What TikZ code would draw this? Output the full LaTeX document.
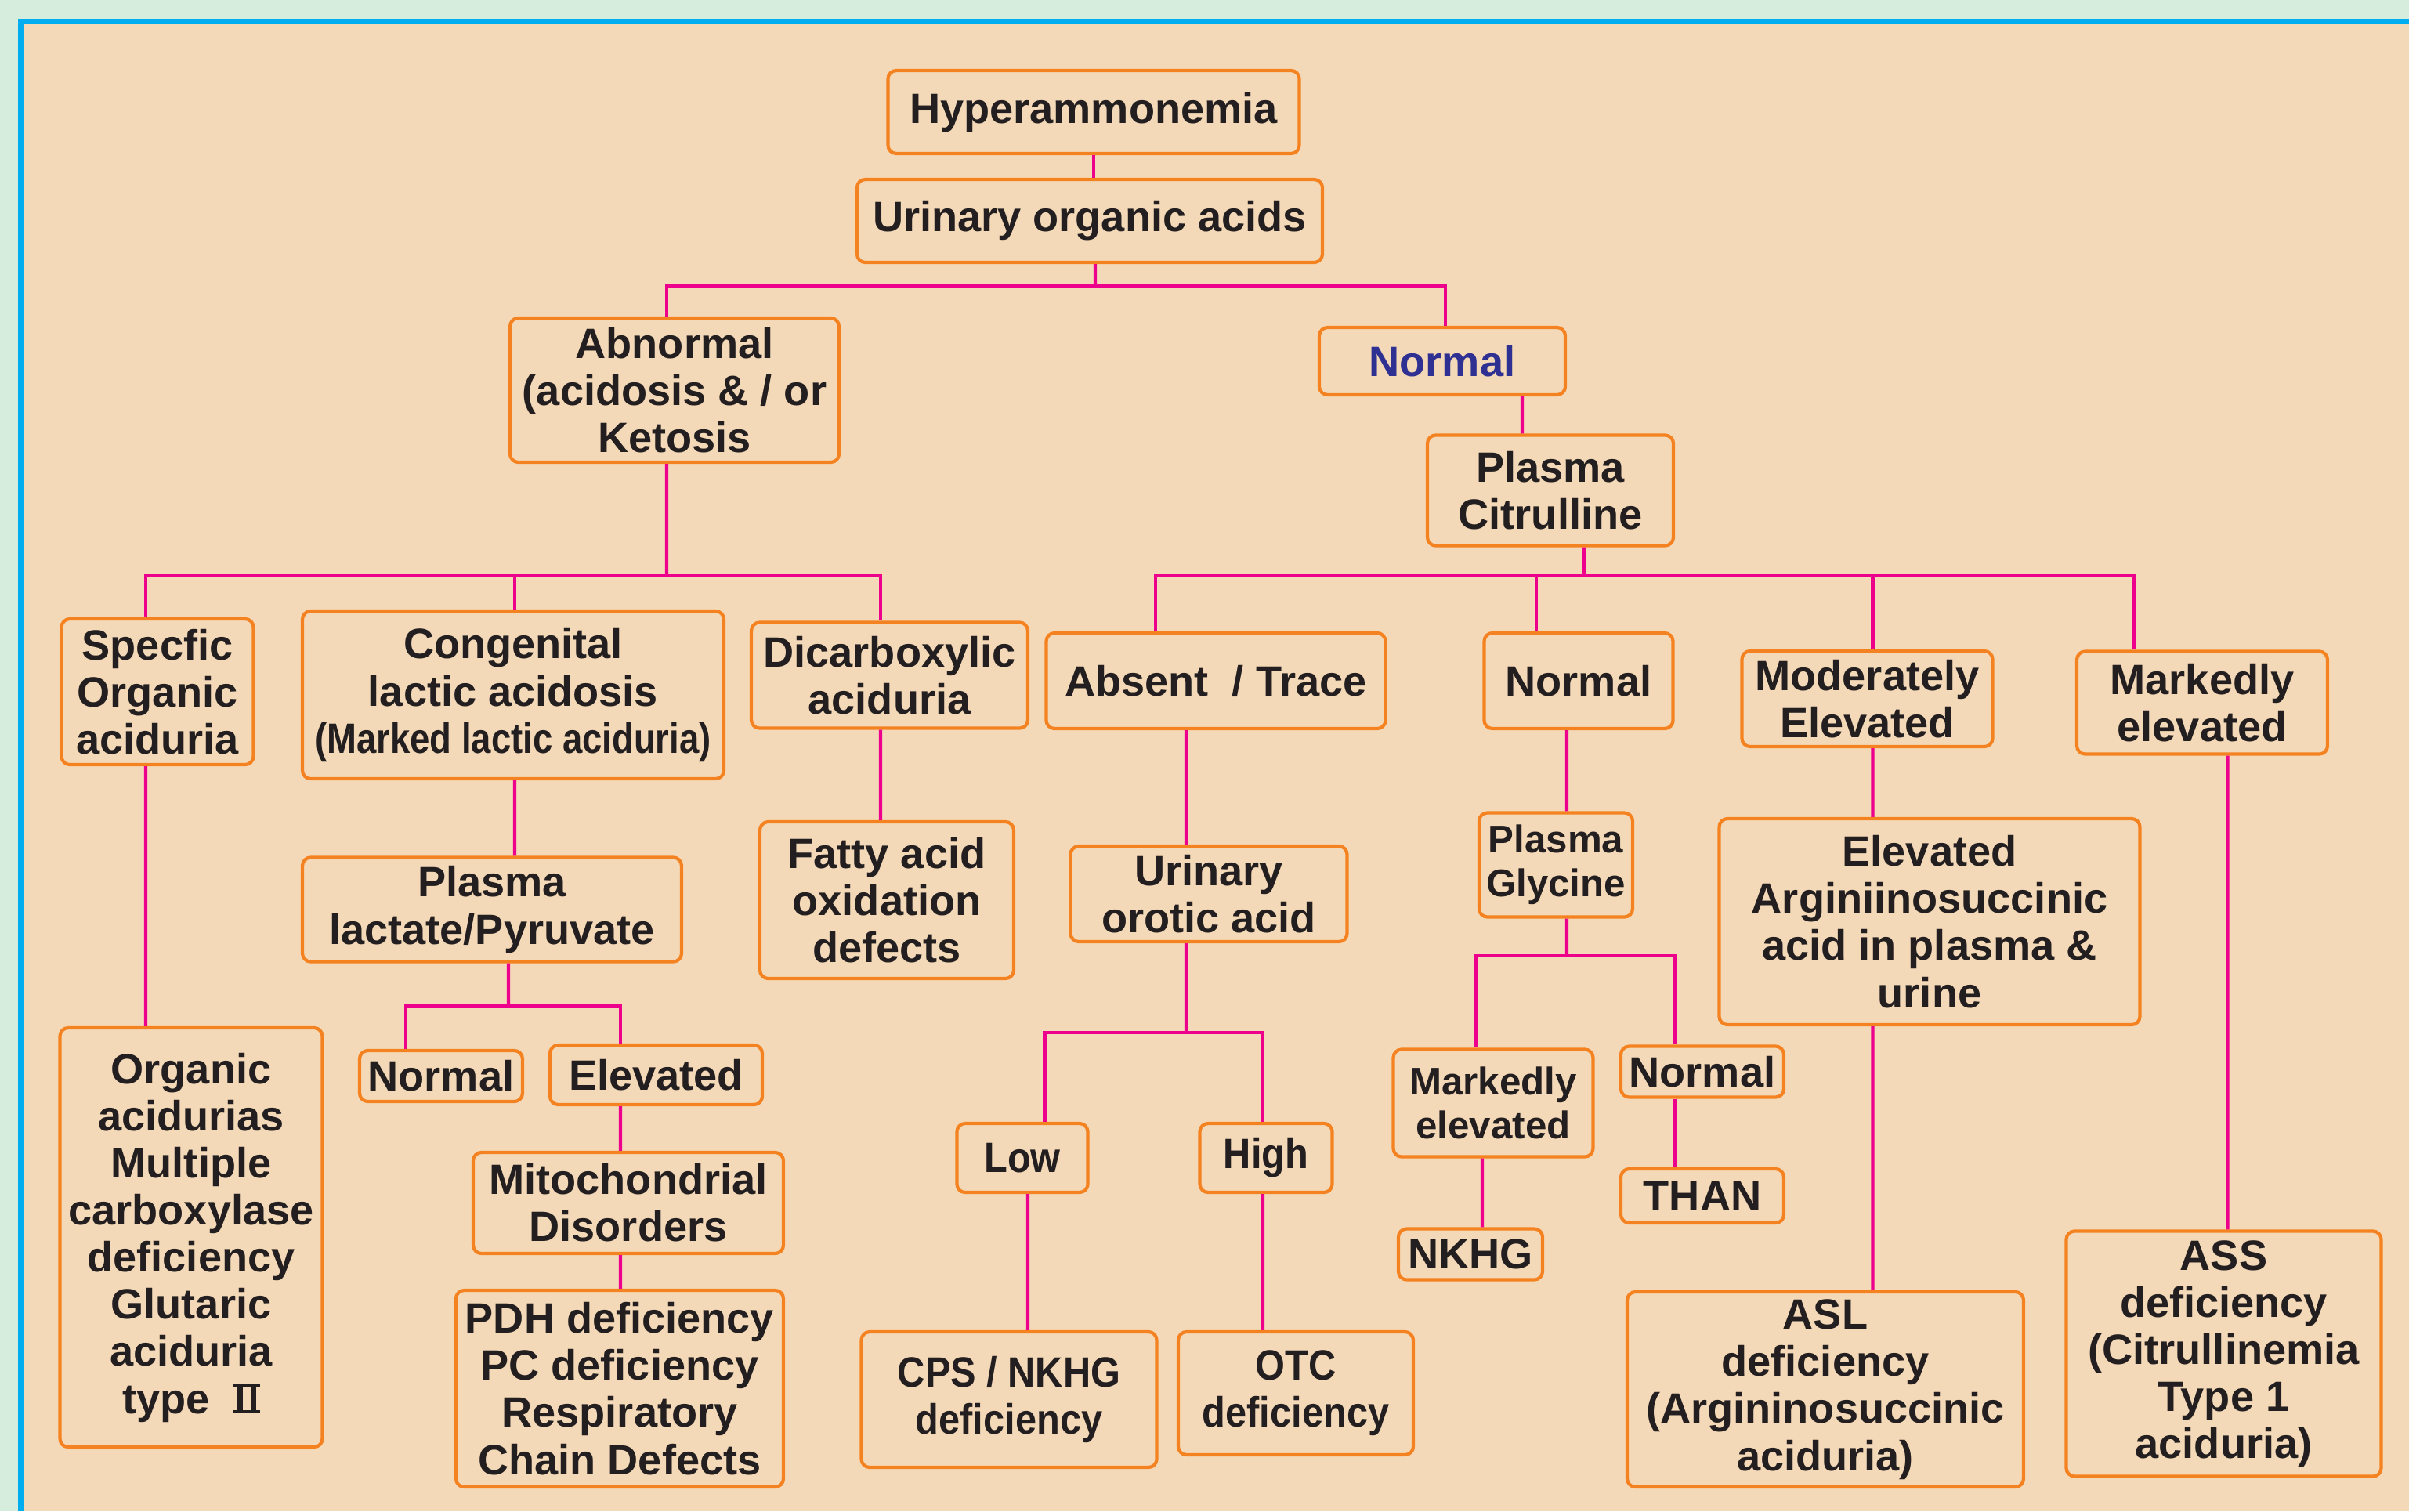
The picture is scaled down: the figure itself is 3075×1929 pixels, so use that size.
\documentclass[tikz,border=0pt]{standalone}
\usepackage{fontspec}
\setmainfont{Liberation Sans}
\newfontfamily\nar{Liberation Sans}[FakeStretch=0.9]
\newfontfamily\narr{Liberation Sans}[FakeStretch=0.84]
\usetikzlibrary{calc}
\newcommand\mytwo{\leavevmode\hbox{\vbox{\hrule width 0.62em height 0.075em
  \hbox to 0.62em{\hskip0.09em\vrule width 0.13em height 0.55em\hfil\vrule width 0.13em height 0.55em\hskip0.09em}%
  \hrule width 0.62em height 0.075em}}}
\definecolor{bgbeige}{HTML}{F4D9B8}
\definecolor{outgreen}{HTML}{D6ECDD}
\definecolor{frameblue}{HTML}{00AEEF}
\definecolor{boxorange}{HTML}{F58220}
\definecolor{linkpink}{HTML}{EC008C}
\definecolor{txt}{HTML}{231F20}
\definecolor{navy}{HTML}{2E3192}
\tikzset{
  box/.style={draw=boxorange, fill=bgbeige, line width=1.2pt, rounded corners=3pt,
    align=center, inner sep=0pt, text=txt,
    font=\bfseries\fontsize{15.4}{17.1}\selectfont},
  smallbox/.style={font=\bfseries\fontsize{14}{15.9}\selectfont},
  narrow/.style={font=\bfseries\nar\fontsize{15.4}{17.1}\selectfont},
  wh/.style 2 args={minimum width=#1*0.01cm, minimum height=#2*0.01cm},
  link/.style={draw=linkpink, line width=1.2pt}
}
\begin{document}
\begin{tikzpicture}[x=0.01cm,y=-0.01cm]
\useasboundingbox (0,0) rectangle (3075,1929);
\fill[outgreen] (0,0) rectangle (3075,1929);
\fill[bgbeige] (30,31) rectangle (3075,1929);
\fill[frameblue] (23,24) rectangle (3075,31);
\fill[frameblue] (23,24) rectangle (30,1929);

% nodes
\node[box, wh={525}{106}] (hyper) at (1396,143) {Hyperammonemia};
\node[box, wh={594}{106}] (uoa) at (1391,282) {Urinary organic acids};
\node[box, wh={420}{184}] (abn) at (861,498) {Abnormal\\(acidosis \& / or\\Ketosis};
\node[box, wh={314}{86}, text=navy] (norm1) at (1841,461) {Normal};
\node[box, wh={314}{141}] (pcit) at (1979,626) {Plasma\\Citrulline};
\node[box, wh={245}{186}] (spec) at (201,883) {Specfic\\Organic\\aciduria};
\node[box, wh={538}{214}] (cong) at (655,887) {Congenital\\lactic acidosis\\{\narr (Marked lactic aciduria)}};
\node[box, wh={353}{135}] (dicarb) at (1135.5,862) {Dicarboxylic\\aciduria};
\node[box, wh={433}{122}] (absent) at (1552,869) {Absent\ \ / Trace};
\node[box, wh={241}{122}] (norm2) at (2015,869) {Normal};
\node[box, wh={320}{122}] (mod) at (2383.5,892) {Moderately\\Elevated};
\node[box, wh={320}{131}] (mark1) at (2811,897) {Markedly\\elevated};
\node[box, wh={484}{133}] (plact) at (628,1161) {Plasma\\lactate/Pyruvate};
\node[box, wh={324}{200}] (fatty) at (1132,1149) {Fatty acid\\oxidation\\defects};
\node[box, wh={353}{122}] (uorot) at (1543,1141) {Urinary\\orotic acid};
\node[box, smallbox, wh={196}{133}] (pgly) at (1986,1104) {Plasma\\Glycine};
\node[box, wh={537}{263}] (easa) at (2463,1176.5) {Elevated\\Arginiinosuccinic\\acid in plasma \&\\urine};
\node[box, wh={335}{535}] (orgac) at (244,1579.5) {Organic\\acidurias\\Multiple\\carboxylase\\deficiency\\Glutaric\\aciduria\\type\ \ \mytwo};
\node[box, wh={208}{65}] (norm3) at (563,1373.5) {Normal};
\node[box, wh={271}{76}] (elev) at (837.5,1372) {Elevated};
\node[box, wh={396}{129}] (mito) at (802,1535.5) {Mitochondrial\\Disorders};
\node[box, wh={418}{251}] (pdh) at (791,1772.5) {PDH deficiency\\PC deficiency\\Respiratory\\Chain Defects};
\node[box, narrow, wh={167}{88}] (low) at (1305,1478) {Low};
\node[box, narrow, wh={169}{88}] (high) at (1616,1478) {High};
\node[box, smallbox, wh={255}{137}] (mark2) at (1906,1408) {Markedly\\elevated};
\node[box, wh={208}{65}] (norm4) at (2173,1368) {Normal};
\node[box, wh={208}{69}] (than) at (2173,1526.5) {THAN};
\node[box, wh={184}{65}] (nkhg) at (1877,1601) {NKHG};
\node[box, narrow, wh={377}{173}] (cps) at (1288,1786.5) {CPS / NKHG\\deficiency};
\node[box, narrow, wh={300}{157}] (otc) at (1654,1778.5) {OTC\\deficiency};
\node[box, wh={506}{249}] (asl) at (2330,1773.5) {ASL\\deficiency\\(Argininosuccinic\\aciduria)};
\node[box, wh={402}{313}] (ass) at (2838.5,1728) {ASS\\deficiency\\(Citrullinemia\\Type 1\\aciduria)};

% connectors
\draw[link] (hyper.south) -- (hyper.south |- uoa.north);

\coordinate (j1) at (1398,365);
\draw[link] ([xshift=0.07cm]uoa.south) -- (j1);
\draw[link] ([xshift=-0.10cm]abn.north) |- (j1) -| ([xshift=0.04cm]norm1.north);

\draw[link] ([xshift=1.02cm]norm1.south) -- ([xshift=-0.36cm]pcit.north);

\coordinate (j2) at (851,735);
\draw[link] ([xshift=-0.10cm]abn.south) -- (j2);
\draw[link] ([xshift=-0.15cm]spec.north) |- (j2) -| ([xshift=-0.115cm]dicarb.north);
\draw[link] ([xshift=0.02cm]cong.north) |- (j2);

\coordinate (j3) at (2022,735);
\draw[link] ([xshift=0.43cm]pcit.south) -- (j3);
\draw[link] ([xshift=-0.77cm]absent.north) |- (j3) -| ([xshift=-0.87cm]mark1.north);
\draw[link] ([xshift=-0.54cm]norm2.north) |- (j3);
\draw[link] ([xshift=0.07cm]mod.north) |- (j3);

\draw[link] ([xshift=-0.15cm]spec.south) -- ([xshift=-0.58cm]orgac.north);
\draw[link] ([xshift=0.02cm]cong.south) -- ([xshift=0.29cm]plact.north);

\coordinate (j4) at (649,1284.5);
\draw[link] ([xshift=0.21cm]plact.south) -- (j4);
\draw[link] ([xshift=-0.45cm]norm3.north) |- (j4) -| ([xshift=-0.455cm]elev.north);
\draw[link] ([xshift=-0.455cm]elev.south) -- ([xshift=-0.10cm]mito.north);
\draw[link] ([xshift=-0.10cm]mito.south) -- ([xshift=0.01cm]pdh.north);

\draw[link] ([xshift=-0.115cm]dicarb.south) -- ([xshift=-0.08cm]fatty.north);

\draw[link] ([xshift=-0.38cm]absent.south) -- ([xshift=-0.29cm]uorot.north);
\coordinate (j5) at (1514,1318);
\draw[link] ([xshift=-0.29cm]uorot.south) -- (j5);
\draw[link] ([xshift=0.285cm]low.north) |- (j5) -| ([xshift=-0.04cm]high.north);
\draw[link] ([xshift=0.07cm]low.south) -- ([xshift=0.24cm]cps.north);
\draw[link] ([xshift=-0.04cm]high.south) -- ([xshift=-0.42cm]otc.north);

\draw[link] ([xshift=-0.15cm]norm2.south) -- ([xshift=0.14cm]pgly.north);
\coordinate (j6) at (2000,1220);
\draw[link] ([xshift=0.14cm]pgly.south) -- (j6);
\draw[link] ([xshift=-0.215cm]mark2.north) |- (j6) -| ([xshift=-0.355cm]norm4.north);
\draw[link] ([xshift=-0.14cm]mark2.south) -- ([xshift=0.15cm]nkhg.north);
\draw[link] ([xshift=-0.355cm]norm4.south) -- ([xshift=-0.355cm]than.north);

\draw[link] ([xshift=0.07cm]mod.south) -- ([xshift=-0.725cm]easa.north);
\draw[link] ([xshift=-0.725cm]easa.south) -- ([xshift=0.605cm]asl.north);
\draw[link] ([xshift=0.325cm]mark1.south) -- ([xshift=0.05cm]ass.north);
\end{tikzpicture}
\end{document}
